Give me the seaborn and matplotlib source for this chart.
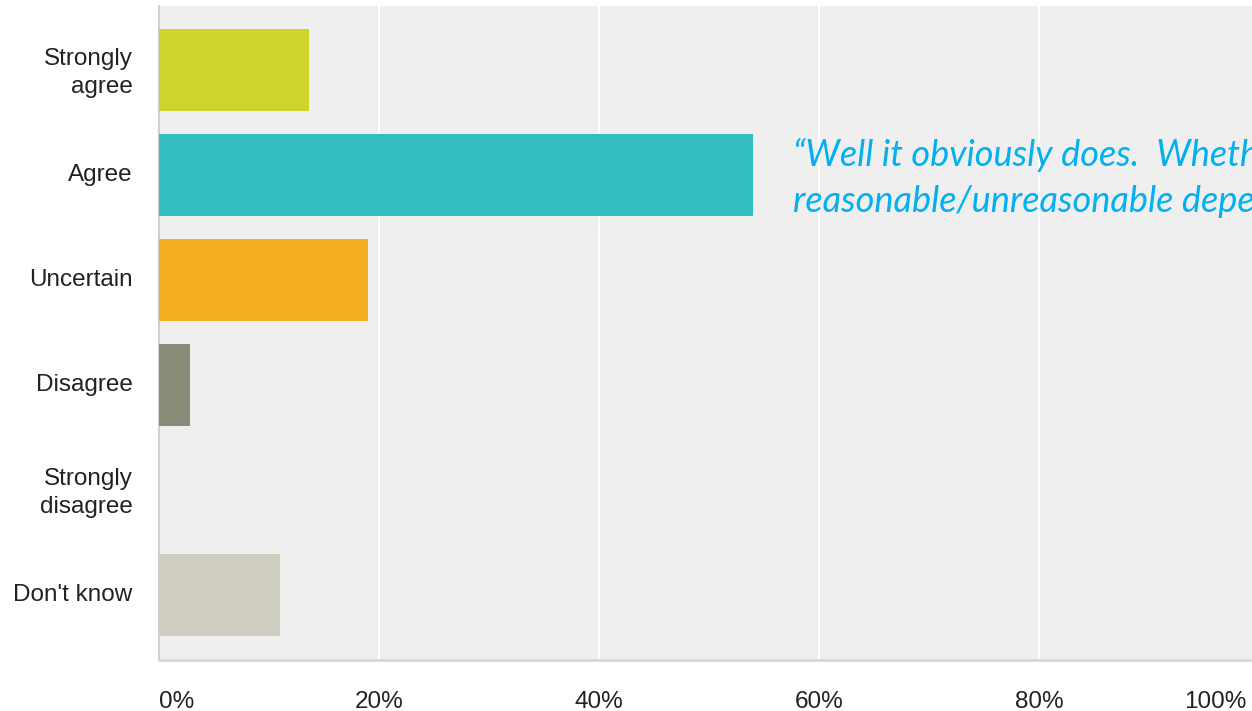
import matplotlib
matplotlib.use("Agg")
import matplotlib.pyplot as plt
import matplotlib.transforms as mtransforms
import pandas as pd
import seaborn as sns

# survey answers (percent of respondents)
answers = ['Strongly\nagree', 'Agree', 'Uncertain', 'Disagree', 'Strongly\ndisagree', "Don't know"]
percent = [13.6, 54.0, 19.0, 2.8, 0.0, 11.0]
bar_colors = ['#cfd42a', '#33bebf', '#f6ae1f', '#8a8b78', '#e0e0d8', '#cfcdbf']
x_ticks = [0, 20, 40, 60, 80, 100]
quote = "\u201cWell it obviously does.  Whether it is\nreasonable/unreasonable depends on the context.\u201d"

df = pd.DataFrame({'Answer': answers, 'Percent': percent})

sns.set_style("white")
plt.rcParams['font.family'] = ['Liberation Sans', 'DejaVu Sans']

fig = plt.figure(figsize=(12.52, 7.11), dpi=100)
ax = fig.add_axes([159 / 1252, 1 - 660 / 711, 1100 / 1252, 654 / 711])
ax.set_facecolor('#efefef')

sns.barplot(data=df, x='Percent', y='Answer', hue='Answer', palette=bar_colors,
            orient='h', width=0.78, saturation=1, legend=False, ax=ax,
            edgecolor='none', linewidth=0, zorder=3)

ax.set_xlim(0, 100)
ax.set_ylim(5.62, -0.61)
ax.set_xticks(x_ticks)
ax.set_xticklabels([f'{t}%' for t in x_ticks])
ax.xaxis.grid(True, color='white', linewidth=1.5, zorder=0)
ax.set_axisbelow(True)
ax.set_xlabel('')
ax.set_ylabel('')
ax.tick_params(axis='x', length=0, pad=22, labelsize=17.5, colors='#222222')
ax.tick_params(axis='y', length=0, pad=19, labelsize=17.5, colors='#222222')

labels = ax.get_xticklabels()
labels[0].set_horizontalalignment('left')
labels[-1].set_horizontalalignment('right')
labels[-1].set_transform(labels[-1].get_transform() +
                         mtransforms.ScaledTranslation(-0.12, 0, fig.dpi_scale_trans))
up = mtransforms.ScaledTranslation(0, 0.025, fig.dpi_scale_trans)
for lab in ax.get_yticklabels():
    lab.set_transform(lab.get_transform() + up)
    lab.set_linespacing(1.35)

for side in ['top', 'right']:
    ax.spines[side].set_visible(False)
ax.spines['left'].set_color('#d0d0d0')
ax.spines['bottom'].set_color('#d8d8d8')
ax.spines['left'].set_linewidth(1.5)
ax.spines['bottom'].set_linewidth(2)

fig.text(793 / 1252, 1 - 178 / 711, quote, color='#00b0f0', fontsize=26,
         style='italic', family=['Lato', 'DejaVu Sans'], ha='left', va='center',
         linespacing=1.42)

fig.savefig('out.png', dpi=100)
